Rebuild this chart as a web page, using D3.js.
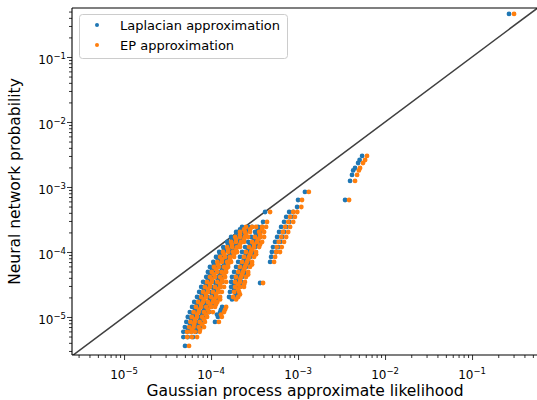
<!DOCTYPE html>
<html><head><meta charset="utf-8">
<script src="https://cdn.jsdelivr.net/npm/d3@7"></script>
<style>body{margin:0;background:#fff} text{font-family:"DejaVu Sans",sans-serif;fill:#000}</style>
</head><body><svg id="c" width="537" height="400"></svg>
<script>
// Neural network probability (shared y value of each point)
const nnProb = [
  4.9e-6,4.9e-6,4.9e-6,
  5.9e-6,5.9e-6,5.9e-6,5.9e-6,
  7.0e-6,7.0e-6,7.0e-6,7.0e-6,
  8.4e-6,8.4e-6,8.4e-6,8.4e-6,8.4e-6,
  1.0e-5,1.0e-5,1.0e-5,1.0e-5,1.0e-5,
  1.19e-5,1.19e-5,1.19e-5,1.19e-5,1.19e-5,1.19e-5,
  1.43e-5,1.43e-5,1.43e-5,1.43e-5,1.43e-5,1.43e-5,
  1.70e-5,1.70e-5,1.70e-5,1.70e-5,1.70e-5,
  2.03e-5,2.03e-5,2.03e-5,2.03e-5,2.03e-5,2.03e-5,2.03e-5,
  2.43e-5,2.43e-5,2.43e-5,2.43e-5,2.43e-5,2.43e-5,2.43e-5,
  2.90e-5,2.90e-5,2.90e-5,2.90e-5,2.90e-5,2.90e-5,2.90e-5,2.90e-5,
  3.46e-5,3.46e-5,3.46e-5,3.46e-5,3.46e-5,3.46e-5,3.46e-5,3.46e-5,
  4.12e-5,4.12e-5,4.12e-5,4.12e-5,4.12e-5,4.12e-5,4.12e-5,
  4.92e-5,4.92e-5,4.92e-5,4.92e-5,4.92e-5,4.92e-5,4.92e-5,
  5.88e-5,5.88e-5,5.88e-5,5.88e-5,5.88e-5,5.88e-5,5.88e-5,
  7.02e-5,7.02e-5,7.02e-5,7.02e-5,7.02e-5,7.02e-5,7.02e-5,7.02e-5,
  8.38e-5,8.38e-5,8.38e-5,8.38e-5,8.38e-5,8.38e-5,8.38e-5,8.38e-5,
  1.0e-4,1.0e-4,1.0e-4,1.0e-4,1.0e-4,1.0e-4,1.0e-4,1.0e-4,1.0e-4,
  1.19e-4,1.19e-4,1.19e-4,1.19e-4,1.19e-4,1.19e-4,1.19e-4,1.19e-4,1.19e-4,
  1.43e-4,1.43e-4,1.43e-4,1.43e-4,1.43e-4,1.43e-4,1.43e-4,1.43e-4,1.43e-4,
  1.70e-4,1.70e-4,1.70e-4,1.70e-4,1.70e-4,1.70e-4,1.70e-4,1.70e-4,1.70e-4,
  2.03e-4,2.03e-4,2.03e-4,2.03e-4,2.03e-4,2.03e-4,2.03e-4,
  2.43e-4,2.43e-4,2.43e-4,2.43e-4,2.43e-4,2.43e-4,2.43e-4,
  2.90e-4,2.90e-4,2.90e-4,
  3.46e-4,3.46e-4,
  4.12e-4,4.12e-4,4.12e-4,
  4.92e-4,
  6.3e-4,
  8.38e-4,
  3.0e-3,2.6e-3,2.34e-3,1.96e-3,1.8e-3,1.53e-3,1.24e-3,6.3e-4,
  0.459,
  3.58e-6,3.33e-5,
  6.4e-6,6.4e-6,
  7.7e-6,7.7e-6,
  9.2e-6,9.2e-6,
  1.09e-5,1.09e-5,1.09e-5,
  1.30e-5,1.30e-5,1.30e-5,
  1.56e-5,1.56e-5,1.56e-5,
  1.86e-5,1.86e-5,1.86e-5,1.86e-5,
  2.22e-5,2.22e-5,2.22e-5,
  2.65e-5,2.65e-5,2.65e-5,
  3.17e-5,3.17e-5,3.17e-5,3.17e-5,
  3.78e-5,3.78e-5,3.78e-5,
  4.5e-5,4.5e-5,4.5e-5,4.5e-5,
  5.4e-5,5.4e-5,5.4e-5,
  6.4e-5,6.4e-5,6.4e-5,6.4e-5,
  7.7e-5,7.7e-5,7.7e-5,
  9.2e-5,9.2e-5,9.2e-5,9.2e-5,
  1.09e-4,1.09e-4,1.09e-4,
  1.30e-4,1.30e-4,1.30e-4,1.30e-4,
  1.56e-4,1.56e-4,1.56e-4,
  1.86e-4,1.86e-4,1.86e-4,
  2.22e-4,2.22e-4,2.22e-4
];
// Gaussian process approximate likelihood, Laplacian approximation
const laplaceLik = [
  4.8e-5,5.4e-5,6.2e-5,
  4.8e-5,5.3e-5,5.9e-5,6.7e-5,
  5.0e-5,5.7e-5,6.5e-5,7.5e-5,
  5.2e-5,5.9e-5,6.7e-5,7.7e-5,1.11e-4,
  5.4e-5,6.2e-5,7.1e-5,8.1e-5,1.20e-4,
  5.7e-5,6.5e-5,7.5e-5,8.5e-5,9.5e-5,1.27e-4,
  6.05e-5,6.9e-5,7.9e-5,9.0e-5,1.0e-4,1.34e-4,
  6.4e-5,7.3e-5,8.3e-5,9.5e-5,1.06e-4,
  6.9e-5,7.9e-5,9.0e-5,1.03e-4,1.14e-4,1.61e-4,1.84e-4,
  7.3e-5,8.3e-5,9.5e-5,1.08e-4,1.20e-4,1.65e-4,1.89e-4,
  7.7e-5,8.8e-5,1.0e-4,1.14e-4,1.27e-4,1.70e-4,1.94e-4,2.15e-4,
  8.1e-5,9.2e-5,1.06e-4,1.20e-4,1.34e-4,1.70e-4,1.94e-4,2.21e-4,
  8.8e-5,1.0e-4,1.14e-4,1.30e-4,1.74e-4,1.99e-4,2.27e-4,
  9.2e-5,1.06e-4,1.20e-4,1.34e-4,1.84e-4,2.10e-4,2.40e-4,
  9.7e-5,1.11e-4,1.27e-4,1.41e-4,1.94e-4,2.21e-4,2.52e-4,
  1.06e-4,1.20e-4,1.38e-4,1.53e-4,2.05e-4,2.33e-4,2.67e-4,4.77e-4,
  1.14e-4,1.30e-4,1.49e-4,1.65e-4,2.15e-4,2.46e-4,2.81e-4,4.9e-4,
  1.24e-4,1.41e-4,1.61e-4,1.79e-4,2.27e-4,2.59e-4,2.96e-4,5.0e-4,5.6e-4,
  1.38e-4,1.57e-4,1.79e-4,1.94e-4,2.46e-4,2.81e-4,3.21e-4,5.15e-4,5.9e-4,
  1.53e-4,1.74e-4,1.99e-4,2.15e-4,2.67e-4,3.04e-4,3.47e-4,5.44e-4,6.21e-4,
  1.70e-4,1.94e-4,2.21e-4,2.40e-4,2.88e-4,3.29e-4,3.66e-4,5.74e-4,6.55e-4,
  1.94e-4,2.21e-4,2.52e-4,3.21e-4,3.66e-4,6.05e-4,6.9e-4,
  2.27e-4,2.67e-4,2.96e-4,3.47e-4,3.86e-4,6.38e-4,7.3e-4,
  3.96e-4,6.9e-4,7.9e-4,
  7.3e-4,8.3e-4,
  4.18e-4,7.9e-4,8.8e-4,
  9.75e-4,
  1.0e-3,
  1.2e-3,
  5.45e-3,5.1e-3,4.9e-3,4.52e-3,4.3e-3,4.17e-3,3.96e-3,3.47e-3,
  0.266,
  5.02e-5,3.66e-4,
  5.44e-5,6.71e-5,
  5.74e-5,7.07e-5,
  5.9e-5,7.48e-5,
  6.2e-5,7.88e-5,1.17e-4,
  6.55e-5,8.3e-5,1.30e-4,
  6.9e-5,8.75e-5,1.03e-4,
  7.48e-5,9.74e-5,1.14e-4,1.74e-4,
  7.88e-5,1.03e-4,1.94e-4,
  8.3e-5,1.08e-4,1.84e-4,
  8.75e-5,1.14e-4,1.84e-4,2.15e-4,
  9.22e-5,1.2e-4,1.94e-4,
  9.74e-5,1.27e-4,2.04e-4,2.40e-4,
  1.03e-4,1.34e-4,2.15e-4,
  1.08e-4,1.41e-4,2.27e-4,2.67e-4,
  1.2e-4,1.49e-4,2.4e-4,
  1.27e-4,1.65e-4,2.52e-4,2.96e-4,
  1.41e-4,1.74e-4,2.67e-4,
  1.57e-4,1.94e-4,2.81e-4,3.29e-4,
  1.74e-4,2.15e-4,3.12e-4,
  1.94e-4,2.27e-4,3.29e-4,
  2.15e-4,2.52e-4,3.47e-4
];
// Gaussian process approximate likelihood, EP approximation
const epLik = [
  5.3e-5,6.0e-5,6.9e-5,
  5.3e-5,5.9e-5,6.5e-5,7.4e-5,
  5.6e-5,6.3e-5,7.2e-5,8.3e-5,
  5.8e-5,6.5e-5,7.4e-5,8.5e-5,1.23e-4,
  6.0e-5,6.9e-5,7.9e-5,9.0e-5,1.33e-4,
  6.3e-5,7.2e-5,8.3e-5,9.4e-5,1.05e-4,1.41e-4,
  6.7e-5,7.7e-5,8.8e-5,1.0e-4,1.11e-4,1.49e-4,
  7.1e-5,8.1e-5,9.2e-5,1.05e-4,1.18e-4,
  7.7e-5,8.8e-5,1.0e-4,1.14e-4,1.27e-4,1.79e-4,2.05e-4,
  8.1e-5,9.2e-5,1.05e-4,1.2e-4,1.33e-4,1.84e-4,2.1e-4,
  8.5e-5,9.7e-5,1.11e-4,1.27e-4,1.41e-4,1.89e-4,2.15e-4,2.39e-4,
  9.0e-5,1.02e-4,1.18e-4,1.33e-4,1.49e-4,1.89e-4,2.15e-4,2.45e-4,
  9.7e-5,1.11e-4,1.27e-4,1.45e-4,1.93e-4,2.21e-4,2.52e-4,
  1.02e-4,1.18e-4,1.33e-4,1.49e-4,2.05e-4,2.33e-4,2.67e-4,
  1.08e-4,1.23e-4,1.41e-4,1.57e-4,2.15e-4,2.45e-4,2.8e-4,
  1.18e-4,1.33e-4,1.53e-4,1.70e-4,2.27e-4,2.59e-4,2.96e-4,5.3e-4,
  1.27e-4,1.45e-4,1.65e-4,1.84e-4,2.39e-4,2.73e-4,3.12e-4,5.45e-4,
  1.37e-4,1.57e-4,1.79e-4,1.99e-4,2.52e-4,2.88e-4,3.29e-4,5.6e-4,6.2e-4,
  1.53e-4,1.75e-4,1.99e-4,2.15e-4,2.73e-4,3.12e-4,3.57e-4,5.7e-4,6.5e-4,
  1.70e-4,1.93e-4,2.21e-4,2.39e-4,2.96e-4,3.38e-4,3.86e-4,6.0e-4,6.9e-4,
  1.89e-4,2.15e-4,2.45e-4,2.67e-4,3.2e-4,3.65e-4,4.07e-4,6.4e-4,7.3e-4,
  2.15e-4,2.45e-4,2.8e-4,3.57e-4,4.07e-4,6.7e-4,7.7e-4,
  2.52e-4,2.96e-4,3.29e-4,3.86e-4,4.29e-4,7.1e-4,8.1e-4,
  4.4e-4,7.7e-4,8.8e-4,
  8.1e-4,9.2e-4,
  4.77e-4,8.8e-4,9.8e-4,
  1.09e-3,
  1.11e-3,
  1.33e-3,
  6.2e-3,5.9e-3,5.58e-3,5.16e-3,5.0e-3,4.77e-3,4.52e-3,3.86e-3,
  0.304,
  5.58e-5,3.96e-4,
  6.05e-5,7.48e-5,
  6.37e-5,7.88e-5,
  6.55e-5,8.3e-5,
  6.9e-5,8.75e-5,1.30e-4,
  7.3e-5,9.22e-5,1.45e-4,
  7.7e-5,9.74e-5,1.14e-4,
  8.3e-5,1.08e-4,1.27e-4,1.94e-4,
  8.75e-5,1.14e-4,2.15e-4,
  9.22e-5,1.2e-4,2.04e-4,
  9.74e-5,1.27e-4,2.04e-4,2.4e-4,
  1.03e-4,1.34e-4,2.15e-4,
  1.08e-4,1.41e-4,2.27e-4,2.67e-4,
  1.14e-4,1.49e-4,2.4e-4,
  1.2e-4,1.57e-4,2.52e-4,2.96e-4,
  1.34e-4,1.65e-4,2.67e-4,
  1.41e-4,1.84e-4,2.81e-4,3.29e-4,
  1.57e-4,1.94e-4,2.96e-4,
  1.74e-4,2.15e-4,3.12e-4,3.66e-4,
  1.94e-4,2.4e-4,3.47e-4,
  2.15e-4,2.52e-4,3.66e-4,
  2.4e-4,2.81e-4,3.86e-4
];
const seriesNames = ["Laplacian approximation", "EP approximation"];
const seriesColors = ["#1f77b4", "#ff7f0e"];
const tickExponents = [-5, -4, -3, -2, -1];
const xLabel = "Gaussian process approximate likelihood";
const yLabel = "Neural network probability";
const axisDomain = [2.52e-6, 0.558];
const yDomain = [2.6e-6, 0.567];

const svg = d3.select("#c");
const L = 72, T = 8, R = 537, B = 355;
const x = d3.scaleLog().domain(axisDomain).range([L, R]);
const y = d3.scaleLog().domain(yDomain).range([B, T]);

svg.append("defs").append("clipPath").attr("id","clip")
  .append("rect").attr("x",L).attr("y",T).attr("width",R-L+2).attr("height",B-T);

const majors = tickExponents.map(e => Math.pow(10, e));
function minors(dom){
  const out=[];
  for(let e=-7;e<=0;e++) for(let k=2;k<=9;k++){const v=k*Math.pow(10,e); if(v>=dom[0]&&v<=dom[1]) out.push(v);}
  return out;
}

// axes (ticks only)
const gx = svg.append("g").attr("transform",`translate(0,${B})`);
gx.call(d3.axisBottom(x).tickValues(minors(axisDomain)).tickSize(3).tickFormat(""));
const gx2 = svg.append("g").attr("transform",`translate(0,${B})`);
gx2.call(d3.axisBottom(x).tickValues(majors).tickSize(5).tickFormat(""));
const gy = svg.append("g").attr("transform",`translate(${L},0)`);
gy.call(d3.axisLeft(y).tickValues(minors(yDomain)).tickSize(3).tickFormat(""));
const gy2 = svg.append("g").attr("transform",`translate(${L},0)`);
gy2.call(d3.axisLeft(y).tickValues(majors).tickSize(5).tickFormat(""));
svg.selectAll(".domain").remove();
svg.selectAll(".tick line").attr("stroke","#000").attr("stroke-width",0.8);

// tick labels
tickExponents.forEach(e => {
  const v = Math.pow(10,e);
  const tx = svg.append("text").attr("x", x(v)).attr("y", 379).attr("text-anchor","middle").attr("font-size",12);
  tx.append("tspan").text("10");
  tx.append("tspan").attr("dy",-5).attr("font-size",8.5).text("\u2212"+(-e));
  const ty = svg.append("text").attr("x", 66).attr("y", y(v)+7.5).attr("text-anchor","end").attr("font-size",12);
  ty.append("tspan").text("10");
  ty.append("tspan").attr("dy",-5).attr("font-size",8.5).text("\u2212"+(-e));
});

// diagonal y = x
const plot = svg.append("g").attr("clip-path","url(#clip)");
plot.append("line")
  .attr("x1", x(1e-6)).attr("y1", y(1e-6)).attr("x2", x(1)).attr("y2", y(1))
  .attr("stroke","#404040").attr("stroke-width",1.6);

// scatter
const pts = nnProb.map((p,i)=>({p, lap: laplaceLik[i], ep: epLik[i]}));
plot.append("g").selectAll("circle").data(pts).join("circle")
  .attr("cx", d=>x(d.lap)).attr("cy", d=>y(d.p)).attr("r",2.4).attr("fill",seriesColors[0]);
plot.append("g").selectAll("circle").data(pts).join("circle")
  .attr("cx", d=>x(d.ep)).attr("cy", d=>y(d.p)).attr("r",2.4).attr("fill",seriesColors[1]);

// spines
svg.append("line").attr("x1",L).attr("x2",L).attr("y1",T).attr("y2",B).attr("stroke","#000").attr("stroke-width",1.1);
svg.append("line").attr("x1",L).attr("x2",R+2).attr("y1",B).attr("y2",B).attr("stroke","#000").attr("stroke-width",1.1);
svg.append("line").attr("x1",L).attr("x2",R+2).attr("y1",T).attr("y2",T).attr("stroke","#000").attr("stroke-width",1.1);

// axis labels
svg.append("text").attr("x",(L+R)/2+0.5).attr("y",396).attr("text-anchor","middle").attr("font-size",15.5).text(xLabel);
svg.append("text").attr("transform",`translate(20,${(T+B)/2}) rotate(-90)`).attr("text-anchor","middle").attr("font-size",15.5).text(yLabel);

// legend
const lg = svg.append("g");
lg.append("rect").attr("x",79.5).attr("y",14.5).attr("width",208).attr("height",44).attr("rx",3)
  .attr("fill","#fff").attr("fill-opacity",0.8).attr("stroke","#cccccc").attr("stroke-width",1);
seriesNames.forEach((n,i)=>{
  lg.append("circle").attr("cx",97).attr("cy",25+i*20).attr("r",2).attr("fill",seriesColors[i]);
  lg.append("text").attr("x",120).attr("y",30+i*20).attr("font-size",13).text(n);
});
</script></body></html>
